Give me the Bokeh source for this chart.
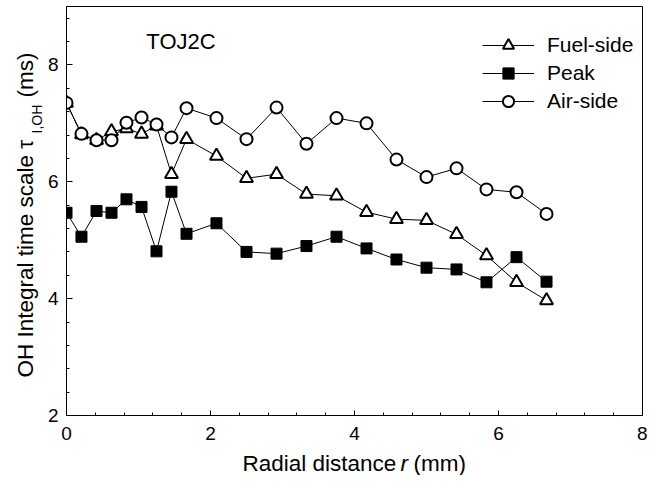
import math
from bokeh.plotting import figure
from bokeh.layouts import column, row
from bokeh.models import Range1d, SingleIntervalTicker, Legend, LegendItem, Label
from bokeh.embed import file_html
from bokeh.resources import INLINE

# ---- data ----
r_mm = [0.0, 0.208, 0.417, 0.625, 0.833, 1.042, 1.25, 1.458, 1.667, 2.083, 2.5,
        2.917, 3.333, 3.75, 4.167, 4.583, 5.0, 5.417, 5.833, 6.25, 6.667]
fuel_side = [7.35, 6.81, 6.71, 6.86, 6.91, 6.82, 6.96, 6.13, 6.73, 6.44, 6.06,
             6.13, 5.79, 5.76, 5.48, 5.36, 5.34, 5.10, 4.74, 4.28, 3.97]
peak = [5.47, 5.06, 5.50, 5.47, 5.70, 5.57, 4.81, 5.83, 5.11, 5.29, 4.80,
        4.77, 4.90, 5.06, 4.86, 4.67, 4.53, 4.50, 4.28, 4.71, 4.29]
air_side = [7.35, 6.82, 6.71, 6.71, 7.01, 7.10, 6.98, 6.76, 7.26, 7.09, 6.73,
            7.27, 6.65, 7.09, 7.00, 6.38, 6.08, 6.23, 5.87, 5.82, 5.45]

series_names = ["Fuel-side", "Peak", "Air-side"]
x_ticks_interval = 2
y_ticks_interval = 2

FONT = "Liberation Sans"
YLAB_W = 44
MAIN_W = 603
MAIN_H = 450
XLAB_H = 25

# ---- main plot ----
p = figure(width=MAIN_W, height=MAIN_H, output_backend="svg", toolbar_location=None,
           x_range=Range1d(0, 8), y_range=Range1d(2, 9),
           min_border_left=65 - YLAB_W, min_border_right=5, min_border_top=6,
           min_border_bottom=35)

p.xgrid.visible = False
p.ygrid.visible = False
p.outline_line_color = "black"
p.outline_line_width = 1
p.background_fill_color = "white"
p.border_fill_color = "white"

p.xaxis.ticker = SingleIntervalTicker(interval=x_ticks_interval, num_minor_ticks=5)
p.yaxis.ticker = SingleIntervalTicker(interval=y_ticks_interval, num_minor_ticks=5)
for ax in (p.xaxis, p.yaxis):
    ax.axis_line_color = "black"
    ax.major_tick_line_color = "black"
    ax.minor_tick_line_color = "black"
    ax.major_tick_out = 0
    ax.minor_tick_out = 0
    ax.minor_tick_in = 3
    ax.major_label_text_font = FONT
    ax.major_label_text_font_size = "19px"
    ax.major_label_text_color = "black"
p.xaxis.major_tick_in = 5
p.yaxis.major_tick_in = 6
p.xaxis.major_label_standoff = 11
p.yaxis.major_label_standoff = 8

l1 = p.line(r_mm, fuel_side, line_color="black", line_width=1)
s1 = p.scatter(r_mm, fuel_side, marker="triangle", size=13, fill_color="white",
               line_color="black", line_width=2)
l2 = p.line(r_mm, peak, line_color="black", line_width=1)
s2 = p.scatter(r_mm, peak, marker="square", size=11, fill_color="black",
               line_color="black", line_width=1)
l3 = p.line(r_mm, air_side, line_color="black", line_width=1)
s3 = p.scatter(r_mm, air_side, marker="circle", size=12, fill_color="white",
               line_color="black", line_width=2)

legend = Legend(items=[LegendItem(label=series_names[0], renderers=[l1, s1]),
                       LegendItem(label=series_names[1], renderers=[l2, s2]),
                       LegendItem(label=series_names[2], renderers=[l3, s3])],
                location=(416, 300), border_line_alpha=0, background_fill_alpha=0,
                label_text_font=FONT, label_text_font_size="21px", label_text_color="black",
                glyph_width=52, glyph_height=28, label_height=28, label_standoff=13,
                spacing=0, padding=0, margin=0)
p.add_layout(legend)


def canvas_label(fig, x, y, text, size="22.5px", angle=0.0, align="left",
                 baseline="alphabetic", style="normal"):
    fig.add_layout(Label(x=x, y=y, x_units="canvas", y_units="canvas", text=text, angle=angle,
                         text_font=FONT, text_font_size=size, text_font_style=style,
                         text_align=align, text_baseline=baseline, text_color="black"))


canvas_label(p, 180.5 - YLAB_W, 41, "TOJ2C", size="22px", align="center", baseline="middle")


def text_panel(w, h):
    f = figure(width=w, height=h, output_backend="svg", toolbar_location=None,
               x_axis_type=None, y_axis_type=None, x_range=Range1d(0, 1), y_range=Range1d(0, 1),
               min_border=0)
    f.xgrid.visible = False
    f.ygrid.visible = False
    f.outline_line_color = None
    f.background_fill_color = "white"
    f.border_fill_color = "white"
    return f


# ---- y-axis label panel (main text, subscript, units) ----
yl = text_panel(YLAB_W, MAIN_H)
canvas_label(yl, 25, 377, "OH Integral time scale \u03c4", angle=math.pi / 2)
canvas_label(yl, 36, 133, "I,OH", size="14px", angle=math.pi / 2)
canvas_label(yl, 25, 97, "(ms)", angle=math.pi / 2)

# ---- x-axis label panel (with italic r) ----
xl = text_panel(YLAB_W + MAIN_W, XLAB_H)
canvas_label(xl, 242, 0, "Radial distance", baseline="top")
canvas_label(xl, 400, 0, "r", style="italic", baseline="top")
canvas_label(xl, 413, 0, "(mm)", baseline="top")

layout = column(row(yl, p, spacing=0), xl, spacing=0)

open("out.html", "w").write(file_html(layout, INLINE))
